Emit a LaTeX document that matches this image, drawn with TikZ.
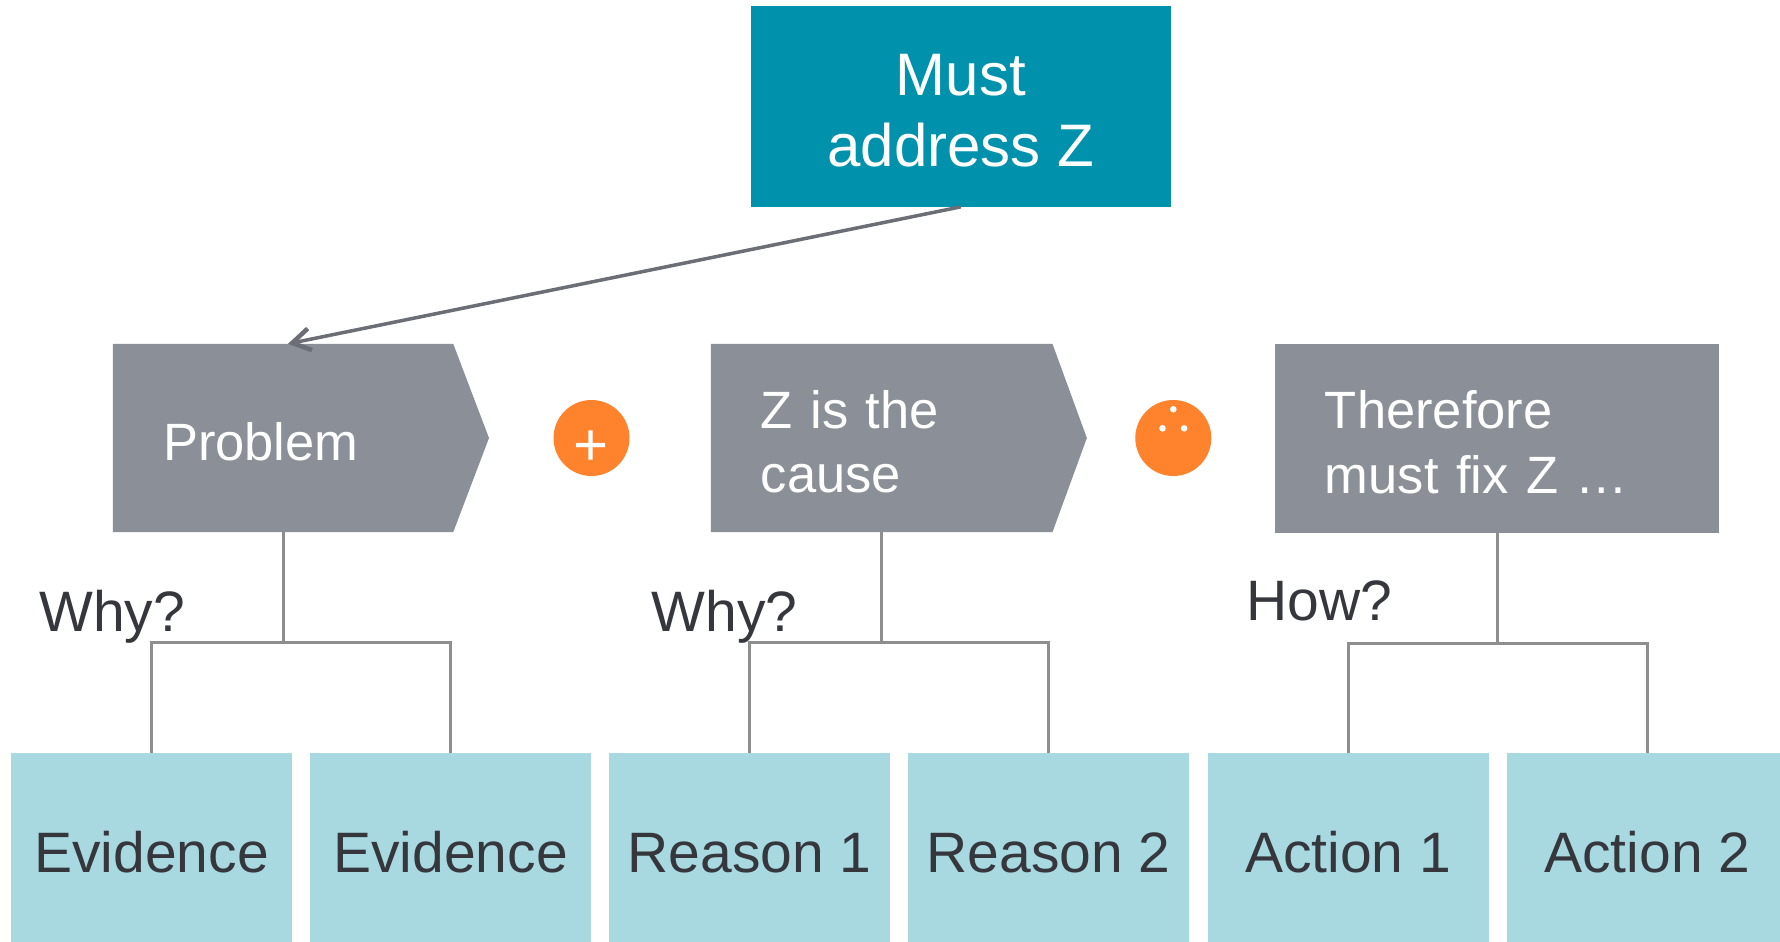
\documentclass[tikz,border=0pt]{standalone}
\usepackage{fontspec}
\setmainfont{Liberation Sans}
\usetikzlibrary{arrows.meta}
\definecolor{tealc}{HTML}{0092AD}
\definecolor{grayc}{HTML}{8B8F97}
\definecolor{orangec}{HTML}{FE832C}
\definecolor{leafc}{HTML}{A8D8E0}
\definecolor{darktext}{HTML}{35373D}
\definecolor{conngray}{HTML}{8E8E8E}
\definecolor{arrowgray}{HTML}{6B6E75}
\pgfdeclarelayer{bg}
\pgfsetlayers{bg,main}
\tikzset{
  mustbox/.style={fill=tealc, text=white, minimum width=420pt, minimum height=200.7pt,
    inner sep=0pt, align=center, font=\fontsize{60}{70.7}\selectfont},
  chev/.style={inner ysep=0pt, inner xsep=50pt, minimum height=188pt, align=left,
    text=white, font=\fontsize{52.5}{64.5}\selectfont},
  leaf/.style={fill=leafc, text=darktext, minimum width=281pt, minimum height=189pt,
    inner sep=0pt, text height=50pt, text depth=0pt, font=\fontsize{57}{68}\selectfont},
  opcirc/.style={circle, fill=orangec, minimum size=76pt, inner sep=0pt, text=white},
  thdot/.style={fill=white},
  conn/.style={draw=conngray, line width=3pt},
  link/.style={draw=arrowgray, line width=3.5pt,
    -{Straight Barb[length=18pt,width=22pt,line width=4.5pt]}},
  ask/.style={anchor=base west, inner sep=0pt, text=darktext, font=\fontsize{57}{68}\selectfont},
}
\begin{document}
\begin{tikzpicture}[x=1pt,y=-1pt]
\begin{pgfonlayer}{bg}
\fill[white] (0,0) rectangle (1780,942);
\end{pgfonlayer}
\useasboundingbox (0,0) rectangle (1780,942);

% top box
\node[mustbox] (must) at (960.7,106.3) {\rule{0pt}{50pt}Must\\address Z};

% middle row
\node[chev, text width=240pt] (prob) at (283,438) {\rule{0pt}{46pt}Problem};
\node[opcirc, font=\fontsize{60}{72}\selectfont, text height=55pt, text depth=0pt] (plus) at (591.5,438) {+};
\node[chev, text width=241.3pt] (cause) at (881.6,438) {\rule{0pt}{46pt}Z is the\\cause};
\node[opcirc] (ergo) at (1173.3,438) {};
\fill[thdot] ([yshift=28.7pt]ergo.center) circle (3.3pt);
\fill[thdot] ([xshift=-10.8pt,yshift=9.7pt]ergo.center) circle (3.3pt);
\fill[thdot] ([xshift=10.8pt,yshift=9.7pt]ergo.center) circle (3.3pt);
\node[chev, fill=grayc, text width=344.5pt, minimum height=188.7pt] (there) at (1497.2,438.3) {\rule{0pt}{46pt}Therefore\\must fix Z …};

\begin{pgfonlayer}{bg}
\fill[grayc] (prob.north west) -- (prob.north east) -- ([xshift=35.8pt]prob.east)
  -- (prob.south east) -- (prob.south west) -- cycle;
\fill[grayc] (cause.north west) -- (cause.north east) -- ([xshift=34.4pt]cause.east)
  -- (cause.south east) -- (cause.south west) -- cycle;
\end{pgfonlayer}

% bottom row
\node[leaf] (ev1) at (151.5,847.5) {Evidence};
\node[leaf] (ev2) at (450.5,847.5) {Evidence};
\node[leaf] (re1) at (749.5,847.5) {Reason 1};
\node[leaf] (re2) at (1048.5,847.5) {Reason 2};
\node[leaf] (ac1) at (1348,847.5) {Action 1};
\node[leaf] (ac2) at (1647.3,847.5) {Action 2};

% question labels
\node[ask] (q1) at (39,631.7) {Why?};
\node[ask] (q2) at (651.5,631.7) {Why?};
\node[ask] (q3) at (1246,620) {How?};

% connectors
\draw[link] (must.south) -- ([xshift=5pt]prob.north);

\path (prob.south) ++(0,110.5) coordinate (j1);
\path (cause.south) ++(0,110.5) coordinate (j2);
\path (there.south) ++(0,110.2) coordinate (j3);
\draw[conn] (prob.south) -- (j1);
\draw[conn] (ev1.north) |- (j1) -| (ev2.north);
\draw[conn] (cause.south) -- (j2);
\draw[conn] (re1.north) |- (j2) -| (re2.north);
\draw[conn] (there.south) -- (j3);
\draw[conn] (ac1.north) |- (j3) -| (ac2.north);
\end{tikzpicture}
\end{document}
